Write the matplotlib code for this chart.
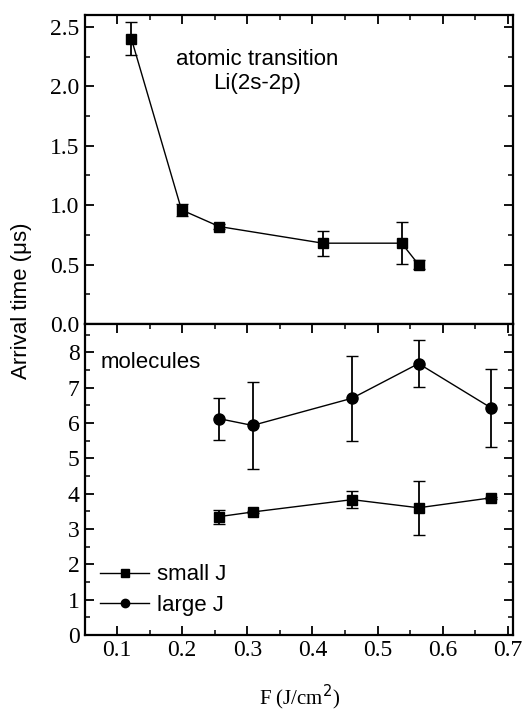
import matplotlib
matplotlib.use("Agg")
import matplotlib.pyplot as plt
from matplotlib.ticker import MultipleLocator
from matplotlib.lines import Line2D

# Top panel: atomic transition Li(2s-2p)
atom_F = [0.122, 0.199, 0.257, 0.416, 0.537, 0.563]
atom_t = [2.40, 0.96, 0.82, 0.68, 0.68, 0.50]
atom_err = [0.14, 0.05, 0.02, 0.105, 0.175, 0.04]

# Bottom panel: molecules
small_F = [0.257, 0.308, 0.461, 0.563, 0.674]
small_t = [3.35, 3.48, 3.83, 3.60, 3.88]
small_err = [0.20, 0.03, 0.24, 0.77, 0.03]

large_F = [0.257, 0.308, 0.461, 0.563, 0.674]
large_t = [6.12, 5.93, 6.70, 7.68, 6.43]
large_err = [0.60, 1.24, 1.20, 0.67, 1.10]

serif = "Liberation Serif"
sans = "Liberation Sans"

fig = plt.figure(figsize=(5.23, 7.11), dpi=100)
left, width = 84.5 / 523, (513 - 84.5) / 523
ax1 = fig.add_axes([left, 1 - 324 / 711, width, (324 - 15) / 711])
ax2 = fig.add_axes([left, 1 - 635 / 711, width, (635 - 324) / 711])

ekw = dict(color="black", lw=1.0, capsize=4, elinewidth=1.3, capthick=1.0)

ax1.errorbar(atom_F, atom_t, yerr=atom_err, marker="s", ms=7, mfc="black", mec="black", **ekw)
ax2.errorbar(small_F, small_t, yerr=small_err, marker="s", ms=7, mfc="black", mec="black", **ekw)
ax2.errorbar(large_F, large_t, yerr=large_err, marker="o", ms=8, mfc="black", mec="black", **ekw)

for ax in (ax1, ax2):
    ax.set_xlim(0.05, 0.708)
    for sp in ax.spines.values():
        sp.set_linewidth(1.6)
    ax.xaxis.set_major_locator(MultipleLocator(0.1))
    ax.xaxis.set_minor_locator(MultipleLocator(0.05))
    ax.tick_params(which="major", direction="in", length=6.5, width=1.3, labelsize=17)
    ax.tick_params(which="minor", direction="in", length=3.5, width=1.1)

ax1.set_ylim(0, 2.6)
ax1.yaxis.set_major_locator(MultipleLocator(0.5))
ax1.yaxis.set_minor_locator(MultipleLocator(0.25))
ax1.yaxis.set_major_formatter(plt.FuncFormatter(lambda v, p: f"{v:.1f}"))
ax1.tick_params(which="both", top=True, bottom=False, right=True, labelbottom=False)

ax2.set_ylim(0, 8.8)
ax2.yaxis.set_major_locator(MultipleLocator(1))
ax2.yaxis.set_minor_locator(MultipleLocator(0.5))
ax2.tick_params(which="both", top=True, bottom=True, right=True)
ax2.xaxis.set_major_formatter(plt.FuncFormatter(lambda v, p: f"{v:.1f}"))

for ax in (ax1, ax2):
    for lab in ax.get_xticklabels() + ax.get_yticklabels():
        lab.set_fontfamily(serif)

ax1.text(0.315, 2.125, "atomic transition\nLi(2s-2p)", ha="center", va="center",
         fontsize=16, family=sans, linespacing=1.15)
ax2.text(0.075, 7.72, "molecules", ha="left", va="center", fontsize=16, family=sans)

handles = [
    Line2D([], [], color="black", lw=1.0, marker="s", ms=5.5, mfc="black"),
    Line2D([], [], color="black", lw=1.0, marker="o", ms=6, mfc="black"),
]
leg = ax2.legend(handles, ["small J", "large J"], loc="lower left",
                 bbox_to_anchor=(0.0, 0.012), frameon=False, handlelength=2.2,
                 handletextpad=0.35, labelspacing=0.42, borderaxespad=0.3,
                 prop={"family": sans, "size": 16})

fig.text(0.042, 1 - 301 / 711, "Arrival time (\u03bcs)", rotation=90, ha="center",
         va="center", fontsize=16, family=sans)
fig.text(300 / 523, 1 - 697 / 711, "F (J/cm$^2$)",
         ha="center", va="center", fontsize=15, family=serif)

fig.savefig("out.png", dpi=100)
